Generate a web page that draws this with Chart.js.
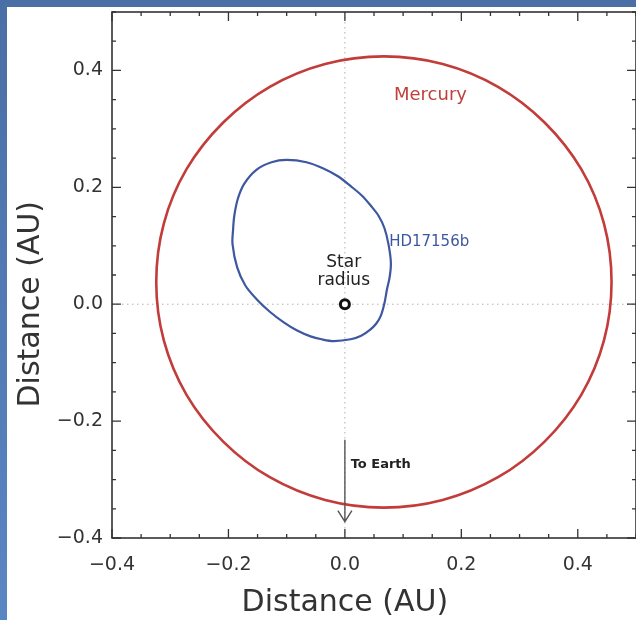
<!DOCTYPE html>
<html>
<head>
<meta charset="utf-8">
<script src="https://cdn.jsdelivr.net/npm/chart.js@4.4.1/dist/chart.umd.min.js"></script>
<style>
  html, body { margin: 0; padding: 0; }
  body {
    width: 636px; height: 620px; overflow: hidden; position: relative;
    background: linear-gradient(180deg, #4a6ea6 0%, #5a86c2 100%);
  }
  #wrap { position: absolute; left: 7px; top: 7px; width: 629px; height: 613px; background: #fff; }
</style>
</head>
<body>
<div id="wrap"><canvas id="orbitChart" width="629" height="613"></canvas></div>
<script>
// Orbit of Mercury (AU)
const mercuryX = [0.458, 0.445, 0.406, 0.343, 0.263, 0.168, 0.067, -0.034, -0.129, -0.209, -0.272, -0.311,
                  -0.324, -0.311, -0.272, -0.209, -0.129, -0.034, 0.067, 0.168, 0.263, 0.343, 0.406, 0.445, 0.458];
const mercuryY = [0.038, 0.138, 0.231, 0.311, 0.372, 0.411, 0.424, 0.411, 0.372, 0.311, 0.231, 0.138,
                  0.038, -0.062, -0.155, -0.235, -0.296, -0.335, -0.348, -0.335, -0.296, -0.235, -0.155, -0.062, 0.038];

// Orbit of HD17156b (AU)
const planetX = [-0.100, -0.066, -0.036, -0.012, 0.010, 0.029, 0.045, 0.058, 0.068, 0.075, 0.079, 0.077,
                 0.072, 0.068, 0.062, 0.054, 0.043, 0.028, 0.010, -0.019, -0.040, -0.059, -0.082, -0.105,
                 -0.130, -0.152, -0.171, -0.185, -0.193, -0.192, -0.190, -0.184, -0.173, -0.152, -0.126, -0.100];
const planetY = [0.247, 0.243, 0.232, 0.219, 0.202, 0.186, 0.168, 0.151, 0.130, 0.102, 0.071, 0.047,
                 0.024, 0.002, -0.019, -0.033, -0.044, -0.054, -0.060, -0.063, -0.060, -0.055, -0.045, -0.031,
                 -0.012, 0.009, 0.032, 0.063, 0.103, 0.128, 0.151, 0.180, 0.206, 0.230, 0.243, 0.247];

// the star
const starX = [0];
const starY = [0];

// "To Earth" arrow (AU)
const arrowX = [0, 0];
const arrowY = [-0.232, -0.372];

const tickValues = [-0.4, -0.2, 0.0, 0.2, 0.4];
const axisMin = -0.4;
const axisMax = 0.5;

// closed loop: one extra point on each end so the join stays smooth,
// the two extra segments are then hidden
function loopPoints(xs, ys) {
  const pts = xs.map(function(x, i) { return { x: x, y: ys[i] }; });
  const n = pts.length;
  return [pts[n - 2]].concat(pts, [pts[1]]);
}

function hideEnds(c) {
  const last = c.chart.data.datasets[c.datasetIndex].data.length - 1;
  if (c.p0DataIndex === 0 || c.p1DataIndex === last) return "rgba(0,0,0,0)";
  return undefined;
}

function fmt(v) {
  const s = Math.abs(v).toFixed(1);
  return v < -1e-9 ? "\u2212" + s : s;
}

const FONT = "'DejaVu Sans', sans-serif";

// labels placed on the plot
const notes = [
  { text: "Mercury", x: 0.147, y: 0.357, color: "#c0403c", size: 18, align: "center" },
  { text: "HD17156b", x: 0.076, y: 0.106, color: "#3d58a0", size: 15, align: "left" },
  { text: "Star", x: -0.002, y: 0.072, color: "#222", size: 17, align: "center" },
  { text: "radius", x: -0.002, y: 0.040, color: "#222", size: 17, align: "center" },
  { text: "To Earth", x: 0.010, y: -0.274, color: "#222", size: 13, align: "left", bold: true }
];

const framePlugin = {
  id: "frame",
  beforeDatasetsDraw: function(chart) {
    const ctx = chart.ctx, a = chart.chartArea;
    const xs = chart.scales.x, ys = chart.scales.y;
    ctx.save();
    ctx.strokeStyle = "#b0b0b0";
    ctx.lineWidth = 1;
    ctx.setLineDash([1.5, 3.5]);
    const x0 = xs.getPixelForValue(0), y0 = ys.getPixelForValue(0);
    ctx.beginPath();
    ctx.moveTo(x0, a.top); ctx.lineTo(x0, a.bottom);
    ctx.moveTo(a.left, y0); ctx.lineTo(a.right, y0);
    ctx.stroke();
    ctx.restore();
  },
  afterDraw: function(chart) {
    const ctx = chart.ctx, a = chart.chartArea;
    const xs = chart.scales.x, ys = chart.scales.y;
    ctx.save();
    // box
    ctx.strokeStyle = "#333";
    ctx.lineWidth = 1.6;
    ctx.strokeRect(a.left, a.top, a.right - a.left, a.bottom - a.top);
    // inward ticks on all sides
    ctx.lineWidth = 1.3;
    ctx.beginPath();
    for (let i = -8; i <= 10; i++) {
      const v = i * 0.05;
      const major = i % 4 === 0;
      const len = major ? 9 : 4;
      const px = xs.getPixelForValue(v), py = ys.getPixelForValue(v);
      ctx.moveTo(px, a.bottom); ctx.lineTo(px, a.bottom - len);
      ctx.moveTo(px, a.top); ctx.lineTo(px, a.top + len);
      ctx.moveTo(a.left, py); ctx.lineTo(a.left + len, py);
      ctx.moveTo(a.right, py); ctx.lineTo(a.right - len, py);
    }
    ctx.stroke();

    // arrow to Earth
    const ax = xs.getPixelForValue(arrowX[0]);
    const ay1 = ys.getPixelForValue(arrowY[0]);
    const ax2 = xs.getPixelForValue(arrowX[1]);
    const ay2 = ys.getPixelForValue(arrowY[1]);
    ctx.strokeStyle = "#555";
    ctx.lineWidth = 1.4;
    ctx.beginPath();
    ctx.moveTo(ax, ay1); ctx.lineTo(ax2, ay2);
    ctx.moveTo(ax2 - 7, ay2 - 11); ctx.lineTo(ax2, ay2); ctx.lineTo(ax2 + 7, ay2 - 11);
    ctx.stroke();

    // text notes
    ctx.textBaseline = "middle";
    notes.forEach(function(n) {
      ctx.font = (n.bold ? "bold " : "") + n.size + "px " + FONT;
      ctx.fillStyle = n.color;
      ctx.textAlign = n.align;
      ctx.fillText(n.text, xs.getPixelForValue(n.x), ys.getPixelForValue(n.y));
    });

    // axis titles, centred on the zero lines
    ctx.font = "30px " + FONT;
    ctx.fillStyle = "#333";
    ctx.textAlign = "center";
    ctx.fillText("Distance (AU)", xs.getPixelForValue(0), 596);
    ctx.translate(24, ys.getPixelForValue(0));
    ctx.rotate(-Math.PI / 2);
    ctx.fillText("Distance (AU)", 0, 0);
    ctx.restore();
  }
};

const ctx = document.getElementById("orbitChart").getContext("2d");
const orbitChart = new Chart(ctx, {
  type: "scatter",
  data: {
    datasets: [
      {
        label: "Mercury",
        data: loopPoints(mercuryX, mercuryY),
        showLine: true,
        borderColor: "#c23c3a",
        borderWidth: 2.6,
        pointRadius: 0,
        tension: 0.33,
        fill: false,
        segment: { borderColor: hideEnds }
      },
      {
        label: "HD17156b",
        data: loopPoints(planetX, planetY),
        showLine: true,
        borderColor: "#3d57a0",
        borderWidth: 2.2,
        pointRadius: 0,
        tension: 0.33,
        fill: false,
        segment: { borderColor: hideEnds }
      },
      {
        label: "Star",
        data: starX.map(function(x, i) { return { x: x, y: starY[i] }; }),
        pointRadius: 4.5,
        pointBorderWidth: 3,
        borderColor: "#111",
        backgroundColor: "#fff"
      }
    ]
  },
  options: {
    responsive: false,
    animation: false,
    devicePixelRatio: 1,
    layout: { autoPadding: false, padding: { top: 5, right: 0, bottom: 0, left: 0 } },
    plugins: {
      legend: { display: false },
      tooltip: { enabled: false }
    },
    scales: {
      x: {
        type: "linear",
        min: axisMin,
        max: axisMax,
        afterBuildTicks: function(scale) {
          scale.ticks = tickValues.map(function(v) { return { value: v }; });
        },
        afterFit: function(scale) {
          scale.height = 82;
          scale.paddingLeft = 0;
          scale.paddingRight = 0;
        },
        grid: { display: false, drawTicks: false },
        border: { display: false },
        ticks: {
          padding: 16,
          color: "#333",
          font: { family: FONT, size: 19 },
          maxRotation: 0,
          callback: function(v) { return fmt(v); }
        }
      },
      y: {
        type: "linear",
        min: axisMin,
        max: axisMax,
        afterBuildTicks: function(scale) {
          scale.ticks = tickValues.map(function(v) { return { value: v }; });
        },
        afterFit: function(scale) {
          scale.width = 105;
          scale.paddingTop = 0;
          scale.paddingBottom = 0;
        },
        grid: { display: false, drawTicks: false },
        border: { display: false },
        ticks: {
          padding: 9,
          color: "#333",
          font: { family: FONT, size: 19 },
          callback: function(v) { return fmt(v); }
        }
      }
    }
  },
  plugins: [framePlugin]
});
</script>
</body>
</html>
